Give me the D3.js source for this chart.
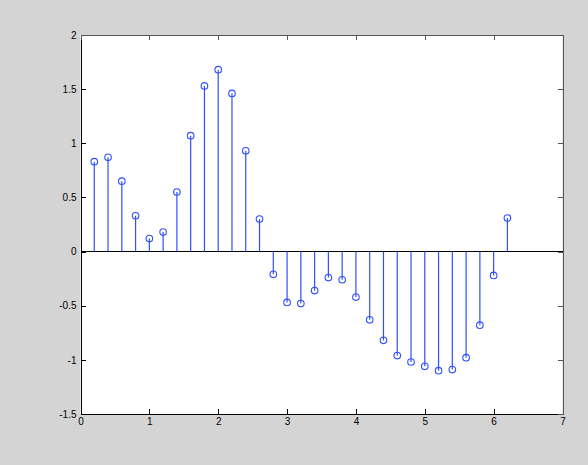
<!DOCTYPE html>
<html>
<head>
    <meta charset="utf-8" />
    <title>Stem plot</title>
    <style>
        body { margin: 0; background: #d4d4d4; }
        .tick text { font-family: "Liberation Sans", Arial, sans-serif; font-size: 10px; fill: #000; }
        .stem { stroke: #2f4fff; stroke-width: 1.2px; }
        .dot { fill: none; stroke: #2f4fff; stroke-width: 1.1px; }
        .domain, .tick line { shape-rendering: crispEdges; }
    </style>
    <script src="https://cdn.jsdelivr.net/npm/d3@7"></script>
</head>
<body>
    <script>
        // data
        const xValues = [0.2, 0.4, 0.6, 0.8, 1.0, 1.2, 1.4, 1.6, 1.8, 2.0, 2.2, 2.4, 2.6, 2.8, 3.0, 3.2,
                         3.4, 3.6, 3.8, 4.0, 4.2, 4.4, 4.6, 4.8, 5.0, 5.2, 5.4, 5.6, 5.8, 6.0, 6.2];
        const yValues = [0.83, 0.87, 0.65, 0.33, 0.12, 0.18, 0.55, 1.07, 1.53, 1.68, 1.46, 0.93, 0.30, -0.21, -0.47, -0.48,
                         -0.36, -0.24, -0.26, -0.42, -0.63, -0.82, -0.96, -1.02, -1.06, -1.10, -1.09, -0.98, -0.68, -0.22, 0.31];
        const xTicks = [0, 1, 2, 3, 4, 5, 6, 7];
        const yTicks = [-1.5, -1, -0.5, 0, 0.5, 1, 1.5, 2];

        const margin = { top: 35, right: 25.5, bottom: 51, left: 80.5 };
        const width = 588 - margin.left - margin.right,
              height = 465 - margin.top - margin.bottom;

        const x = d3.scaleLinear().domain([0, 7]).range([0, width]);
        const y = d3.scaleLinear().domain([-1.5, 2]).range([height, 0]);

        const svg = d3.select('body').append('svg')
            .attr('width', 588)
            .attr('height', 465)
          .append('g')
            .attr('transform', 'translate(' + margin.left + ',' + margin.top + ')');

        // white plot area
        svg.append('rect')
            .attr('width', width)
            .attr('height', height)
            .attr('fill', '#fff');

        const fmt = d => String(d);

        // bottom axis with ticks pointing inward
        const xAxis = svg.append('g')
            .attr('transform', 'translate(0,' + height + ')')
            .call(d3.axisBottom(x).tickValues(xTicks).tickFormat(fmt).tickSizeInner(-5).tickSizeOuter(0).tickPadding(4));
        const yAxis = svg.append('g')
            .call(d3.axisLeft(y).tickValues(yTicks).tickFormat(fmt).tickSizeInner(-5).tickSizeOuter(0).tickPadding(4));
        // top and right axes, ticks only
        const topAxis = svg.append('g')
            .call(d3.axisTop(x).tickValues(xTicks).tickFormat('').tickSizeInner(-5).tickSizeOuter(0));
        const rightAxis = svg.append('g')
            .attr('transform', 'translate(' + width + ',0)')
            .call(d3.axisRight(y).tickValues(yTicks).tickFormat('').tickSizeInner(-5).tickSizeOuter(0));

        [xAxis, yAxis].forEach(a => a.selectAll('path, line').attr('stroke', '#000'));
        [topAxis, rightAxis].forEach(a => a.selectAll('path, line').attr('stroke', '#555'));

        // baseline at zero
        svg.append('line')
            .attr('x1', 0).attr('x2', width)
            .attr('y1', y(0)).attr('y2', y(0))
            .attr('stroke', '#000')
            .style('shape-rendering', 'crispEdges');

        const data = xValues.map((v, i) => ({ x: v, y: yValues[i] }));

        svg.selectAll('.stem')
            .data(data)
            .enter().append('line')
            .attr('class', 'stem')
            .attr('x1', d => x(d.x)).attr('x2', d => x(d.x))
            .attr('y1', y(0)).attr('y2', d => y(d.y));

        svg.selectAll('.dot')
            .data(data)
            .enter().append('circle')
            .attr('class', 'dot')
            .attr('cx', d => x(d.x))
            .attr('cy', d => y(d.y))
            .attr('r', 3.3);
    </script>
</body>
</html>
